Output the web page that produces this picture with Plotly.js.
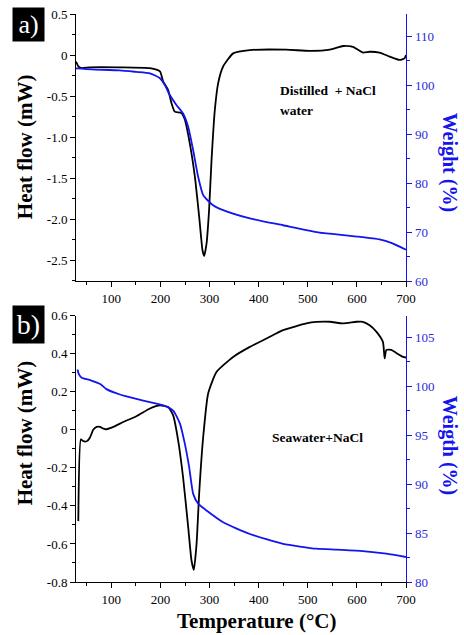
<!DOCTYPE html>
<html>
<head>
<meta charset="utf-8">
<script src="https://cdn.plot.ly/plotly-3.0.1.min.js"></script>
<style>html,body{margin:0;padding:0;background:#fff;}#chart{width:464px;height:635px;}</style>
</head>
<body>
<div id="chart"></div>
<script>
// ---- Panel a) Distilled water + NaCl ----
const tempA_heat = [28, 33, 40, 56, 117, 178.5, 199, 205.6, 215.7, 222.6, 229, 243, 249.7, 259.8, 270, 278.8, 285.6, 289, 293.8, 299, 304, 310.7, 317.4, 327.6, 348, 382, 456, 504, 545, 572, 592, 612, 626, 646, 667, 687, 697, 700];
const heatA      = [-0.08, -0.14, -0.16, -0.15, -0.15, -0.16, -0.20, -0.325, -0.427, -0.59, -0.69, -0.71, -0.79, -1.08, -1.48, -1.97, -2.38, -2.45, -2.30, -1.89, -1.28, -0.67, -0.345, -0.14, 0.02, 0.06, 0.065, 0.05, 0.065, 0.11, 0.10, 0.03, 0.04, 0.03, -0.02, -0.06, -0.04, 0.00];
const tempA_wt   = [28, 60, 117, 150, 178.5, 199, 209, 219, 232.8, 246, 256.4, 266.6, 276.7, 287, 297, 307, 327.6, 382, 449.6, 524, 545, 600, 646, 670, 700];
const weightA    = [103.4, 103.2, 103.0, 102.7, 102.4, 101.4, 100.0, 97.96, 95.9, 94.2, 91.5, 86.7, 81.3, 77.55, 76.4, 75.5, 74.5, 72.8, 71.4, 69.9, 69.7, 69.1, 68.5, 67.8, 66.4];

// ---- Panel b) Seawater + NaCl ----
const tempB_heat = [32.7, 38, 43, 50, 56.5, 63, 70, 77, 84, 90, 104, 124, 151, 178.5, 199, 215.7, 225.9, 236, 246, 256.4, 263.2, 268, 273.5, 278.8, 287, 297, 314, 348, 382, 416, 449.6, 497, 517.5, 545, 572, 599, 612, 626, 640, 653, 656.5, 660, 670, 680, 694, 700];
const heatB      = [-0.48, -0.05, -0.06, -0.06, -0.04, 0.00, 0.015, 0.015, 0.006, 0.003, 0.015, 0.041, 0.071, 0.112, 0.129, 0.12, 0.076, -0.055, -0.248, -0.51, -0.687, -0.736, -0.60, -0.336, -0.038, 0.19, 0.304, 0.383, 0.436, 0.48, 0.524, 0.559, 0.567, 0.568, 0.559, 0.568, 0.568, 0.55, 0.515, 0.462, 0.375, 0.42, 0.42, 0.404, 0.383, 0.38];
const tempB_wt   = [31, 34, 39.6, 58, 78, 90, 117.5, 151, 178.5, 205.6, 225.9, 239.5, 249.7, 258.5, 266.6, 276.7, 293.8, 327.6, 382, 449.6, 517.5, 558, 612, 660, 700];
const weightB    = [101.7, 101.2, 100.86, 100.6, 100.2, 99.7, 99.15, 98.7, 98.37, 98.03, 97.5, 96.2, 94.1, 91.7, 89.0, 88.0, 87.3, 86.1, 84.9, 83.9, 83.4, 83.3, 83.16, 82.9, 82.55];

// ---- tick labels ----
const xTicks = [100, 200, 300, 400, 500, 600, 700];
const yA_vals = [0.5, 0, -0.5, -1.0, -1.5, -2.0, -2.5];
const yA_text = ["0.5", "0", "-0.5", "-1.0", "-1.5", "-2.0", "-2.5"];
const yB_vals = [0.6, 0.4, 0.2, 0, -0.2, -0.4, -0.6, -0.8];
const yB_text = ["0.6", "0.4", "0.2", "0", "-0.2", "-0.4", "-0.6", "-0.8"];

const BLACK = '#000000', BLUE = '#1414ee', BLUE_TXT = '#2a2ad8';
const SERIF = '"Liberation Serif", "Times New Roman", serif';

const traces = [
  {x: tempA_heat, y: heatA, xaxis: 'x', yaxis: 'y', mode: 'lines', line: {color: BLACK, width: 1.8, shape: 'spline', smoothing: 0.5}, hoverinfo: 'skip'},
  {x: tempA_wt, y: weightA, xaxis: 'x', yaxis: 'y2', mode: 'lines', line: {color: BLUE, width: 1.8, shape: 'spline', smoothing: 0.5}, hoverinfo: 'skip'},
  {x: tempB_heat, y: heatB, xaxis: 'x2', yaxis: 'y3', mode: 'lines', line: {color: BLACK, width: 1.8, shape: 'spline', smoothing: 0.5}, hoverinfo: 'skip'},
  {x: tempB_wt, y: weightB, xaxis: 'x2', yaxis: 'y4', mode: 'lines', line: {color: BLUE, width: 1.8, shape: 'spline', smoothing: 0.5}, hoverinfo: 'skip'}
];

const tickFont = {family: SERIF, size: 13, color: BLACK};
const blueTickFont = {family: SERIF, size: 13, color: BLUE_TXT};

function xBase(anchor) {
  return {anchor: anchor, domain: [0, 1], range: [28, 700], tickmode: 'array', tickvals: xTicks,
    ticks: 'outside', ticklen: 5, tickwidth: 1, tickcolor: BLACK, showline: true, linecolor: BLACK, linewidth: 1,
    showgrid: false, zeroline: false, tickfont: tickFont,
    minor: {dtick: 50, tick0: 0, ticks: 'outside', ticklen: 3, tickcolor: BLACK}};
}
function xTop(over, anchor) {
  return {overlaying: over, anchor: anchor, side: 'top', range: [28, 700], tickmode: 'array', tickvals: xTicks,
    ticks: 'inside', ticklen: 5, tickcolor: '#333', showline: true, linecolor: '#444', linewidth: 1,
    showticklabels: false, showgrid: false, zeroline: false,
    minor: {dtick: 50, tick0: 0, ticks: 'inside', ticklen: 3, tickcolor: '#333'}};
}

const layout = {
  width: 464, height: 635,
  margin: {l: 76, r: 57.5, t: 14, b: 53.3, pad: 0},
  paper_bgcolor: '#fff', plot_bgcolor: '#fff',
  showlegend: false,
  font: {family: SERIF, color: BLACK},
  xaxis: xBase('y'),
  xaxis3: xTop('x', 'y'),
  xaxis2: xBase('y3'),
  xaxis4: xTop('x2', 'y3'),
  yaxis: {anchor: 'x', domain: [0.5297, 1], range: [-2.756, 0.5], tickmode: 'array', tickvals: yA_vals, ticktext: yA_text,
    ticks: 'outside', ticklen: 5, tickcolor: BLACK, showline: true, linecolor: BLACK, linewidth: 1,
    showgrid: false, zeroline: false, tickfont: tickFont,
    minor: {dtick: 0.25, tick0: 0, ticks: 'outside', ticklen: 3, tickcolor: BLACK}},
  yaxis2: {overlaying: 'y', anchor: 'x', side: 'right', range: [60, 114.5], tickmode: 'linear', tick0: 60, dtick: 10,
    ticks: 'outside', ticklen: 5, tickcolor: BLUE, showline: true, linecolor: BLUE, linewidth: 1.3,
    showgrid: false, zeroline: false, tickfont: blueTickFont,
    minor: {dtick: 5, tick0: 60, ticks: 'outside', ticklen: 3, tickcolor: BLUE}},
  yaxis3: {anchor: 'x2', domain: [0, 0.4689], range: [-0.8, 0.6], tickmode: 'array', tickvals: yB_vals, ticktext: yB_text,
    ticks: 'outside', ticklen: 5, tickcolor: BLACK, showline: true, linecolor: BLACK, linewidth: 1,
    showgrid: false, zeroline: false, tickfont: tickFont,
    minor: {dtick: 0.1, tick0: 0, ticks: 'outside', ticklen: 3, tickcolor: BLACK}},
  yaxis4: {overlaying: 'y3', anchor: 'x2', side: 'right', range: [80, 107.2], tickmode: 'linear', tick0: 80, dtick: 5,
    ticks: 'outside', ticklen: 5, tickcolor: BLUE, showline: true, linecolor: BLUE, linewidth: 1.3,
    showgrid: false, zeroline: false, tickfont: blueTickFont,
    minor: {dtick: 2.5, tick0: 80, ticks: 'outside', ticklen: 3, tickcolor: BLUE}},
  annotations: [
    {text: 'a)', xref: 'paper', yref: 'paper', x: -0.1936, y: 1.0123, xanchor: 'left', yanchor: 'top', showarrow: false,
      bgcolor: '#000', width: 28, height: 30, borderpad: 1.5, font: {family: SERIF, size: 26, color: '#fff'}},
    {text: 'b)', xref: 'paper', yref: 'paper', x: -0.1936, y: 0.4874, xanchor: 'left', yanchor: 'top', showarrow: false,
      bgcolor: '#000', width: 28, height: 34, borderpad: 1.5, font: {family: SERIF, size: 28, color: '#fff'}},
    {text: '<b>Heat flow (mW)</b>', xref: 'paper', yref: 'paper', x: -0.1543, y: 0.7657, xanchor: 'center', yanchor: 'middle',
      textangle: -90, showarrow: false, font: {family: SERIF, size: 21, color: BLACK}},
    {text: '<b>Heat flow (mW)</b>', xref: 'paper', yref: 'paper', x: -0.1543, y: 0.2619, xanchor: 'center', yanchor: 'middle',
      textangle: -90, showarrow: false, font: {family: SERIF, size: 21, color: BLACK}},
    {text: '<b>Weight (%)</b>', xref: 'paper', yref: 'paper', x: 1.1316, y: 0.7393, xanchor: 'center', yanchor: 'middle',
      textangle: 90, showarrow: false, font: {family: SERIF, size: 20, color: BLUE}},
    {text: '<b>Weigth (%)</b>', xref: 'paper', yref: 'paper', x: 1.1316, y: 0.2408, xanchor: 'center', yanchor: 'middle',
      textangle: 90, showarrow: false, font: {family: SERIF, size: 20, color: BLUE}},
    {text: '<b>Temperature (°C)</b>', xref: 'paper', yref: 'paper', x: 0.5477, y: -0.0692, xanchor: 'center', yanchor: 'middle',
      showarrow: false, font: {family: SERIF, size: 21, color: BLACK}},
    {text: '<b>Distilled  + NaCl</b>', xref: 'paper', yref: 'paper', x: 0.6112, y: 0.8661, xanchor: 'left', yanchor: 'middle',
      showarrow: false, font: {family: SERIF, size: 13.5, color: BLACK}},
    {text: '<b>water</b>', xref: 'paper', yref: 'paper', x: 0.6112, y: 0.8309, xanchor: 'left', yanchor: 'middle',
      showarrow: false, font: {family: SERIF, size: 13.5, color: BLACK}},
    {text: '<b>Seawater+NaCl</b>', xref: 'paper', yref: 'paper', x: 0.587, y: 0.2549, xanchor: 'left', yanchor: 'middle',
      showarrow: false, font: {family: SERIF, size: 13.5, color: BLACK}}
  ]
};

Plotly.newPlot('chart', traces, layout, {staticPlot: true, displayModeBar: false});
</script>
</body>
</html>
